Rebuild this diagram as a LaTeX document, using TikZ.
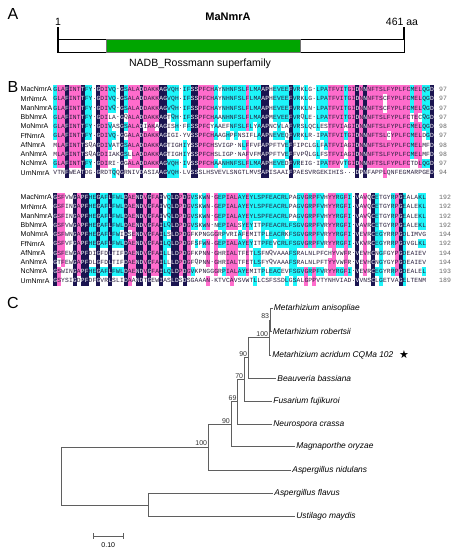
\documentclass[tikz,border=0pt]{standalone}
\usepackage{fontspec}
\setmainfont{Liberation Sans}
\setmonofont{Liberation Mono}
\newfontfamily\starfont{DejaVu Sans}

\definecolor{resnavy}{RGB}{26,20,80}
\definecolor{respink}{RGB}{255,108,204}
\definecolor{rescyan}{RGB}{30,245,250}
\definecolor{resink}{RGB}{40,30,60}
\definecolor{treegray}{RGB}{95,95,95}
\definecolor{domgreen}{RGB}{0,165,0}

\newcount\seqpos
\newcount\matchcnt
\newcount\rowk
\def\gapres{.}
\def\storeseq#1#2#3{\def\seqtag{#1-#2}\seqpos=0 \storeseqi#3\relax}
\def\storeseqi#1{\ifx#1\relax\else
  \advance\seqpos by 1
  \expandafter\def\csname res\seqtag-\the\seqpos\endcsname{#1}%
  \expandafter\storeseqi\fi}
\def\countres#1#2#3{\global\matchcnt=0 \rowk=1
  \loop
    \expandafter\ifx\csname res#1-#2-#3\expandafter\endcsname
      \csname res#1-\the\rowk-#3\endcsname
      \global\advance\matchcnt by 1
    \fi
    \advance\rowk by 1
  \ifnum\rowk<11 \repeat}

% block 1
\storeseq{1}{1}{GLAFINTTFY . GDIVQ . GSALADDAKKAGVQH . IFSSPFCHAYNHNFSLFLMAAPHEVEEFVRKLG . LPATFVITGIDNNNFTSLFYPLFCMELQGD}
\storeseq{1}{2}{GLAFINTTFY . GDIVQ . GSALADDAKKAGVQH . IFSSPFCHAYNHNFSLFLMAAPHEVEEFVRKLG . LPATFVITGIDNNNFTSCFYPLFCMELQGD}
\storeseq{1}{3}{GLAFINTTFY . GDIVQ . GSALADDAKKAGVQH . IFSSPFCHAYNHNFSLFLMAAPHEVEEFVRKLN . LPATFVITGIDNNNFTSCFYPLFCMELQGD}
\storeseq{1}{4}{GLAFINTTFY . GDILA . GQALADDAKKAGTQH . IFSSPFCHAANHNFSLFLMAAPMEVEEFVRQLE . LPATFVITGIDNNNFTSLFYPLFCTECQGD}
\storeseq{1}{5}{GLAFINTTFY . GDIVA S GSALADIAKAAGISH . FFSSPFCYAAEFNFSLFLYAAPNCVLAFVRSLQ C LESTFVIAGIDNNNFTSLFYPLFCMELQGD}
\storeseq{1}{6}{GLAFINTTFY . GDIVQ . GGALADDAKKAGIGI . YVSSPFCHAAGHPFNSIFLAAPNEVEQFVRKLR . IPATFVITGIDNNNFTSLCYPLFCMELDGD}
\storeseq{1}{7}{MLAFINTTSQ A GDIVA T GSALADDAKKAGTIG H IYSSPFCHSVIGP.NLFFVFAPPFTVEFFIPCL G LFATFVIAGIDNNNFTSLFYPLFCMELMFD}
\storeseq{1}{8}{MLAFINTTSQ A GDIIA K GSLLADDAKKAGTIG H IYSSPFCHSLIGP.NAFVFMAPPFTVEFFVPQL G LFSTFVIAGIDNNNFTSLFYPLFCMELMFD}
\storeseq{1}{9}{GLAFINTTFY . GDIRI . GGALADDAKKAGVQH . IVSSPFCHAANHNFSLFLMAAPHEVEDFVREIG . IPATFVVTGIDNNNFTSLFYPLFCTDLQGD}
\storeseq{1}{10}{VTNFWEATDG . GRDTQ Q GRNIVDASIAAGVQH . LVSSSLHSVEVLSNGTLMVSAPISAAIFPAESV R GEKIHIS...DPNFAPPLQNFEGMARPGED}
% block 2
\storeseq{2}{1}{GSFVWGAPFH EGAFLFWLDA ENDVGFAIVQ LDPDGVSKWN . GEPIALAYEY LSPFEACRLP AGVGRPFVHY YRGF I . VAVQCETGYR PGEALAKL}
\storeseq{2}{2}{GSFINGAPFH EGAFLFWLDA ENDVGFAIVQ LDPDGVSKWN . GEPIALAYEY LSPFEACRLP AGVGRPFVHY YRGF I . VAVQCETGYR PGEALEKL}
\storeseq{2}{3}{GSFINGAPFH EGAFLFWLDA ENDVGFAIVQ LDPDGVSKWN . GEPIALAYEY LSPFEACRLP AGVGRPFVHY YRGF I . VAVQCETGYR PGEALEKL}
\storeseq{2}{4}{GSFVWGAPFH EGAFLFWLDA ENDVGFAILQ LDPDGVSKWN . NEPIALSYEY ITPFEACRLF SGVGRPFVRY YRGF I . VAVRCETGYR PGEALEKL}
\storeseq{2}{5}{GSFWNGAPFH EGAFLFWIDS ENDVGFAILS LDPDGFKPNG G GRPVRIAFEM ITPLEACRKF SGVGRPFVRY YRGF I . VEVRCEGYRR PGDLIMVG}
\storeseq{2}{6}{GSFVFGAPFH EGAFLFWLDA ENDVGFAILQ LDPDGFSFWN . GEPIALAYEY ITPFEVCRLF SGVGRPFVRY YRGF I . VKVRCEGYRR PGDVGLKL}
\storeseq{2}{7}{GSFEWGAPFD IGFDLTIFDA ENDVGFAILL LDPDGFKPNN . GHRIALTFET LSFNQVAAAF SRALNLPFCH YVWF R . VEVHCNGFGY PGDEAIEV}
\storeseq{2}{8}{GTFEWGAPFD LGFDLTIFDA ENDVGFAILL LDPDGFQPNN . GHRIALTFET LSFYQVAAAF SRALNLPFTY YVWF R . VEVHCNGYGY PGDEAIEV}
\storeseq{2}{9}{GSWINGAPFH EGAFLFWLDA ENDVGFAILQ LDPDGVKPNG G GRPIALAYEM ITPLEACEVF SGVGRPFVRY YRGF I . VEVRCEGYRR PGDEALEL}
\storeseq{2}{10}{GSYSIGDPFD FGVRLSLIDA ANDTGEWIAS LDSDSGAAAN . KTVCAVSVWT LLCSFSSDLG SALGPPVTYN HVIA D . VVNSCLGETV AGELTENM}

\tikzset{
  rescell/.style={inner sep=0pt, minimum width=4.1pt, minimum height=9.5pt,
    font=\ttfamily\fontsize{6.3}{6.3}\selectfont, text=resink},
  seqname/.style={anchor=west, inner sep=0pt, font=\fontsize{7}{7}\selectfont},
  seqnum/.style={anchor=west, inner sep=0pt, text=black!60, font=\ttfamily\fontsize{6.5}{6.5}\selectfont},
  panel/.style={font=\fontsize{16}{16}\selectfont},
  branch/.style={draw=treegray, line width=0.9pt},
  leaf/.style={anchor=west, inner sep=1.2pt, font=\itshape\fontsize{8.4}{8.4}\selectfont},
  boot/.style={anchor=south east, inner sep=1pt, text=black!80, font=\fontsize{7}{7}\selectfont},
}

\newcommand\alignblock[3]{%
  \foreach \rw in {1,...,10}{
    \foreach \cn in {1,...,#2}{
      \countres{#1}{\rw}{\cn}
      \def\cellfill{white}\def\cellink{resink}
      \ifnum\matchcnt>4 \def\cellfill{rescyan}\fi
      \ifnum\matchcnt>7 \def\cellfill{respink}\fi
      \ifnum\matchcnt=10 \def\cellfill{resnavy}\def\cellink{white}\fi
      \expandafter\ifx\csname res#1-\rw-\cn\endcsname\gapres \def\cellfill{white}\def\cellink{resink}\fi
      \node[rescell, fill=\cellfill, text=\cellink] (r#1-\rw-\cn) at ({53.3+(\cn-0.5)*3.925}, {#3+(\rw-1)*9.25}) {\csname res#1-\rw-\cn\endcsname};
    }
  }
}

\begin{document}
\begin{tikzpicture}[x=1pt,y=-1pt]
\useasboundingbox[fill=white] (0,0) rectangle (456,550);

% A
\node[panel] (pa) at (13,14) {A};
\node[font=\bfseries\fontsize{11}{11}\selectfont] (title) at (228,17) {MaNmrA};
\node[font=\fontsize{10.5}{10.5}\selectfont] (first) at (58,21.5) {1};
\node[font=\fontsize{10.5}{10.5}\selectfont] (last) at (402,21.5) {461 aa};
\draw[line width=1.8pt] (58,27) -- (58,53);
\draw[line width=1.8pt] (404,27) -- (404,53);
\draw[line width=0.8pt, fill=white] (58,39.5) rectangle (404,52.5);
\draw[draw=black!55, line width=0.6pt, fill=domgreen] (106,39.5) rectangle (300,52.5);
\node[font=\fontsize{10.5}{10.5}\selectfont] (dom) at (200,63.5) {NADB\_Rossmann superfamily};

% B
\node[panel] (pb) at (13,86.5) {B};
\alignblock{1}{97}{89.5}
\alignblock{2}{95}{197.5}
\foreach \nm [count=\rw] in {MacNmrA,MrNmrA,ManNmrA,BbNmrA,MoNmrA,FfNmrA,AfNmrA,AnNmrA,NcNmrA,UmNmrA}{
  \node[seqname] (na\rw) at (20.5,{89.5+(\rw-1)*9.25}) {\nm};
  \node[seqname] (nb\rw) at (20.5,{197.5+(\rw-1)*9.25}) {\nm};
}
\foreach \num [count=\rw] in {97,97,97,97,98,97,98,98,97,94}
  \node[seqnum] (ea\rw) at (439,{89.5+(\rw-1)*9.25}) {\num};
\foreach \num [count=\rw] in {192,192,192,192,194,192,194,194,193,189}
  \node[seqnum] (eb\rw) at (439,{197.5+(\rw-1)*9.25}) {\num};

% C
\node[panel] (pc) at (13,303.3) {C};
\coordinate (root) at (61,476.1);
\coordinate (casp) at (148.3,505);
\coordinate (c100) at (208.3,447.2);
\coordinate (c90l) at (231,424.3);
\coordinate (c69) at (237.7,401.9);
\coordinate (c70) at (244.3,379.5);
\coordinate (c90u) at (248.3,357.9);
\coordinate (c100u) at (269.3,337.5);
\coordinate (c83) at (270.3,320);

\node[leaf] (anis) at (272.5,308.3) {Metarhizium anisopliae};
\node[leaf] (robe) at (271.5,331.7) {Metarhizium robertsii};
\node[leaf] (acri) at (271,355) {Metarhizium acridum CQMa 102};
\node[leaf] (beau) at (276,378.3) {Beauveria bassiana};
\node[leaf] (fusa) at (272,401) {Fusarium fujikuroi};
\node[leaf] (neur) at (272,424.3) {Neurospora crassa};
\node[leaf] (magn) at (295,446.7) {Magnaporthe oryzae};
\node[leaf] (nidu) at (291,470) {Aspergillus nidulans};
\node[leaf] (flav) at (273,493.3) {Aspergillus flavus};
\node[leaf] (usti) at (295,516.7) {Ustilago maydis};
\node[font=\starfont\fontsize{11}{11}\selectfont] (star) at (404,355) {★};

\draw[branch] (root) |- (c100) (root) |- (casp)
  (casp) |- (flav.west) (casp) |- (usti.west)
  (c100) |- (c90l) (c100) |- (nidu.west)
  (c90l) |- (c69) (c90l) |- (magn.west)
  (c69) |- (c70) (c69) |- (neur.west)
  (c70) |- (c90u) (c70) |- (fusa.west)
  (c90u) |- (c100u) (c90u) |- (beau.west)
  (c100u) |- (c83) (c100u) |- (acri.west)
  (c83) |- (anis.west) (c83) |- (robe.west);

\node[boot] (bs83) at (c83) {83};
\node[boot] (bs100u) at (c100u) {100};
\node[boot] (bs90u) at (c90u) {90};
\node[boot] (bs70) at (c70) {70};
\node[boot] (bs69) at (c69) {69};
\node[boot] (bs90l) at (c90l) {90};
\node[boot] (bs100) at (c100) {100};

% scale
\coordinate (sb0) at (93.3,536);
\coordinate (sb1) at (123.3,536);
\draw[branch, line width=0.7pt] (sb0) -- (sb1);
\draw[branch, line width=0.7pt] (93.3,533) -- (93.3,539) (123.3,533) -- (123.3,539);
\node[font=\fontsize{7}{7}\selectfont] (sblab) at (108.3,545.5) {0.10};
\end{tikzpicture}
\end{document}
